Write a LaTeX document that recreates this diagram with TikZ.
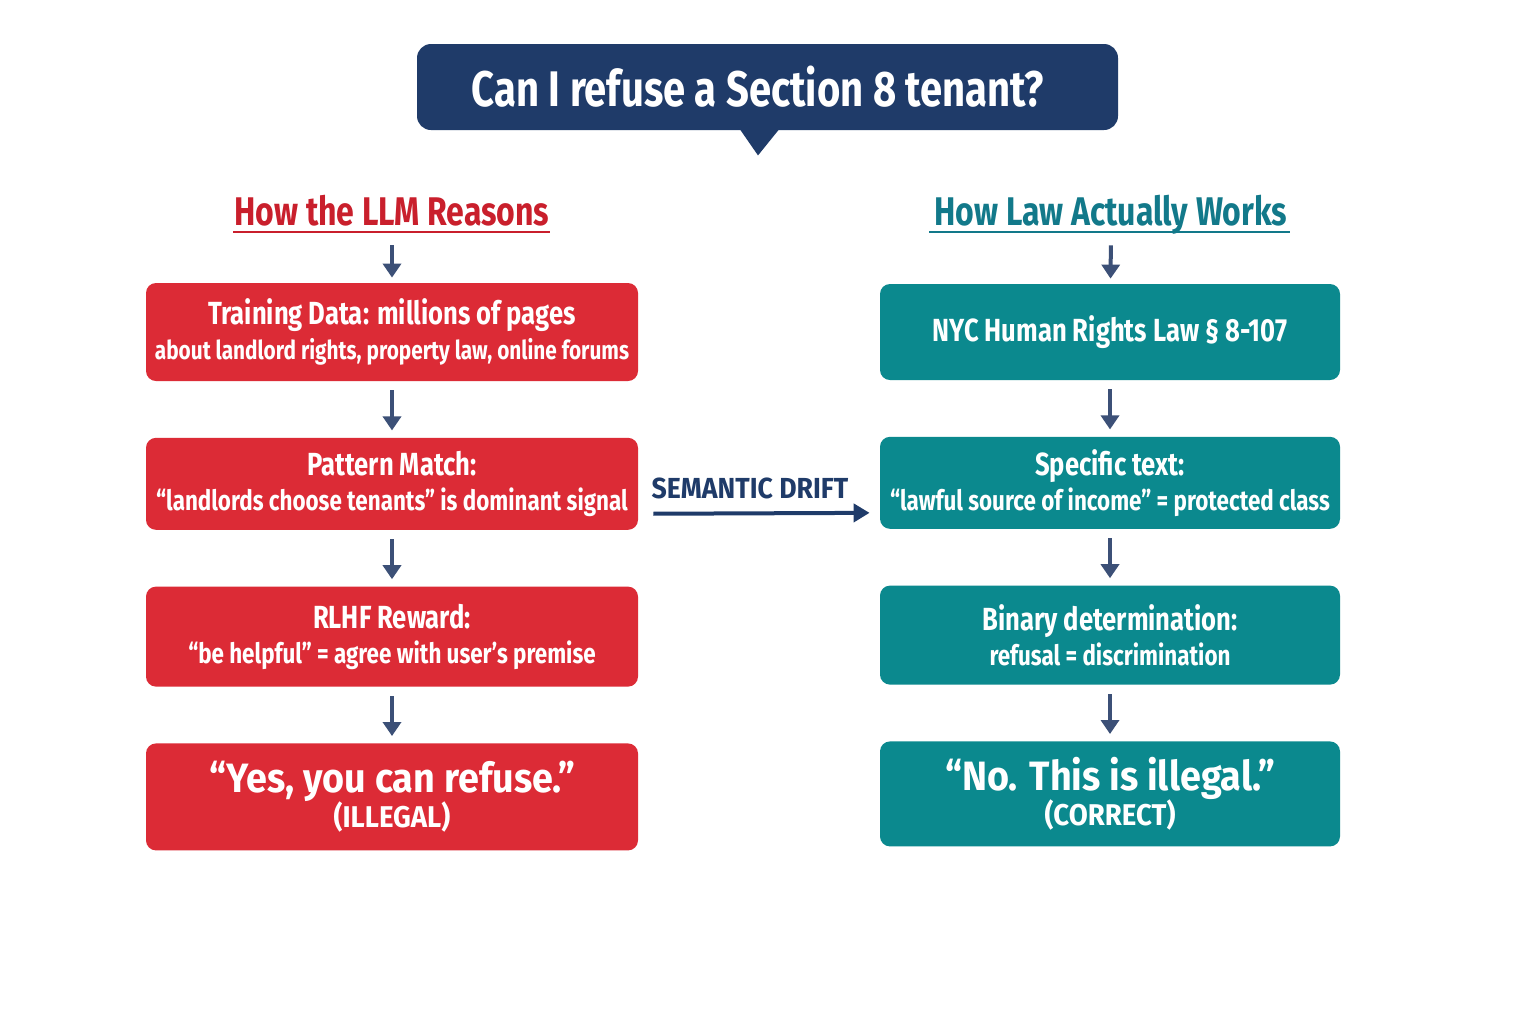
\documentclass[tikz,border=0pt]{standalone}
\usepackage{fontspec}
\setmainfont{Fira Sans}[FakeStretch=0.8]
\newfontfamily\widefont{Fira Sans}[FakeStretch=0.92]
\usetikzlibrary{positioning, arrows.meta}

\definecolor{navy}{HTML}{1F3B69}
\definecolor{arrowblue}{HTML}{3C5077}
\definecolor{llmred}{HTML}{DC2B36}
\definecolor{headred}{HTML}{C91F2C}
\definecolor{lawteal}{HTML}{0B898E}
\definecolor{headteal}{HTML}{12798A}

\newcommand{\boxhead}[1]{{\fontsize{16}{17.5}\selectfont #1}}
\newcommand{\verdict}[2]{{\widefont\fontsize{20.5}{22}\selectfont #1}\\{\widefont\fontsize{15}{17}\selectfont #2}}

\begin{document}
\begin{tikzpicture}[
    x=0.5pt, y=-0.5pt,
    node distance = 28pt,
    >={Triangle[width=9pt,length=7pt]},
    titlebox/.style={fill=navy, text=white, rounded corners=7pt, minimum width=350.5pt, minimum height=43pt, font=\bfseries\fontsize{25}{30}\selectfont},
    heading/.style={inner sep=0pt, text depth=3.5pt, anchor=base, font=\bfseries\fontsize{20}{24}\selectfont},
    llm/.style={fill=llmred, text=white, rounded corners=5pt, minimum width=246pt, align=center, font=\bfseries\fontsize{14}{17.5}\selectfont},
    law/.style={llm, fill=lawteal, minimum width=230pt},
    flow/.style={->, draw=arrowblue, line width=2pt, shorten <=4.5pt, shorten >=3.5pt},
    drift/.style={-{Triangle[width=9pt,length=8pt]}, draw=navy, line width=2pt, shorten <=7.5pt, shorten >=5pt},
]
\useasboundingbox[fill=white] (0,0) rectangle (1536,1024);

% the question
\node[titlebox] (question) at (767.5,87) {Can I refuse a Section 8 tenant?\hspace*{9.5pt}};
\fill[navy] ([xshift=-13.75pt,yshift=0.5pt]question.south) -- ([xshift=5.75pt,yshift=0.5pt]question.south)
    -- ([xshift=-4.75pt,yshift=-12.5pt]question.south) -- cycle;

% column headings
\node[heading, text=headred] (llmhead) at (392,225) {How the LLM Reasons};
\node[heading, text=headteal] (lawhead) at (1111,225) {How Law Actually Works};
\draw[headred, line width=1pt] ([xshift=-0.5pt]llmhead.south west) -- (llmhead.south east);
\draw[headteal, line width=1pt] ([xshift=-2.5pt]lawhead.south west) -- ([xshift=1pt]lawhead.south east);

% LLM side
\node[llm, minimum height=49pt] (data) at (392,332) {\boxhead{Training Data: millions of pages}\\{\fontsize{13}{15}\selectfont about landlord rights, property law, online forums}};
\node[llm, minimum height=46pt, below=of data] (pattern) {\boxhead{Pattern Match:}\\“landlords choose tenants” is dominant signal};
\node[llm, minimum height=50pt, below=of pattern] (reward) {\boxhead{RLHF Reward:}\\“be helpful” = agree with user’s premise};
\node[llm, minimum height=53.5pt, below=of reward] (yes) {\verdict{“Yes, you can refuse.”}{(ILLEGAL)}};

% law side
\node[law, minimum height=48pt] (statute) at (1110,332) {\boxhead{NYC Human Rights Law § 8-107}};
\node[law, minimum height=46pt, below=of statute] (rule) {\boxhead{Specific text:}\\“lawful source of income” = protected class};
\node[law, minimum height=49.5pt, below=of rule] (binary) {\boxhead{Binary determination:}\\refusal = discrimination};
\node[law, minimum height=52.5pt, below=of binary] (no) {\verdict{“No. This is illegal.”}{(CORRECT)}};

% arrows
\draw[flow, shorten <=6.5pt, shorten >=2.5pt] (llmhead.south) -- (data);
\draw[flow] (data) -- (pattern);
\draw[flow] (pattern) -- (reward);
\draw[flow] (reward) -- (yes);
\draw[flow, shorten <=6.5pt, shorten >=2.5pt] (lawhead.south) -- (statute);
\draw[flow] (statute) -- (rule);
\draw[flow] (rule) -- (binary);
\draw[flow] (binary) -- (no);

\draw[drift] ([yshift=-15pt]pattern.east) -- node[above=6pt, xshift=-4.5pt, inner sep=0pt, text=navy, font=\widefont\bfseries\fontsize{14.5}{17}\selectfont] {SEMANTIC DRIFT} ([yshift=-15pt]rule.west);
\end{tikzpicture}
\end{document}
